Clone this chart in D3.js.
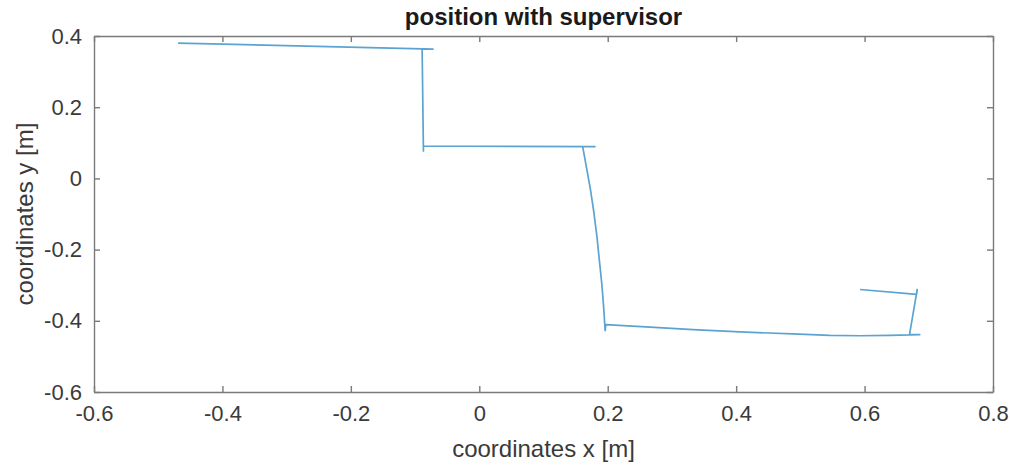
<!DOCTYPE html>
<html><head><meta charset="utf-8">
<script src="https://cdn.jsdelivr.net/npm/d3@7"></script>
<style>body{margin:0;background:#fff;} text{font-family:"Liberation Sans",Arial,sans-serif;}</style>
</head><body>
<svg id="c" width="1012" height="469"></svg>
<script>
const title = "position with supervisor";
const xLabel = "coordinates x [m]";
const yLabel = "coordinates y [m]";
const xTicks = [-0.6,-0.4,-0.2,0,0.2,0.4,0.6,0.8];
const yTicks = [-0.6,-0.4,-0.2,0,0.2,0.4];
const pathX = [-0.469,-0.072,-0.089,-0.087,-0.087,0.180,0.161,0.167,0.173,0.178,0.183,0.187,0.191,0.194,0.196,0.197,0.266,0.333,0.406,0.488,0.546,0.593,0.639,0.686,0.670,0.682,0.681,0.593];
const pathY = [0.380,0.363,0.364,0.077,0.091,0.089,0.089,0.030,-0.030,-0.090,-0.160,-0.230,-0.300,-0.370,-0.428,-0.411,-0.418,-0.425,-0.431,-0.437,-0.441,-0.442,-0.441,-0.439,-0.439,-0.312,-0.326,-0.312];

const L=94,R=993,T=36,B=392;
const svg=d3.select("#c");
const x=d3.scaleLinear().domain([-0.6,0.8]).range([L,R]);
const y=d3.scaleLinear().domain([-0.6,0.4]).range([B,T]);
const axCol="#7a7a7a", txtCol="#3a3a3a";
const fmt=d=>d===0?"0":d3.format(".1f")(d).replace("\u2212","-");

function style(g){g.select(".domain").attr("stroke",axCol).attr("stroke-width",1.4);
 g.selectAll(".tick line").attr("stroke",axCol).attr("stroke-width",1.4);
 g.selectAll(".tick text").attr("fill",txtCol).attr("font-size",22).attr("font-family","Liberation Sans, Arial, sans-serif");}

svg.append("g").attr("transform",`translate(0,${B})`).call(d3.axisBottom(x).tickValues(xTicks).tickFormat(fmt).tickSizeInner(-6).tickSizeOuter(0).tickPadding(13)).call(style);
svg.append("g").attr("transform",`translate(0,${T})`).call(d3.axisTop(x).tickValues(xTicks).tickFormat("").tickSizeInner(-6).tickSizeOuter(0)).call(style);
svg.append("g").attr("transform",`translate(${L},0)`).call(d3.axisLeft(y).tickValues(yTicks).tickFormat(fmt).tickSizeInner(-6).tickSizeOuter(0).tickPadding(12)).call(style);
svg.append("g").attr("transform",`translate(${R},0)`).call(d3.axisRight(y).tickValues(yTicks).tickFormat("").tickSizeInner(-6).tickSizeOuter(0)).call(style);

const pts=pathX.map((v,i)=>[v,pathY[i]]);
svg.append("path").datum(pts).attr("fill","none").attr("stroke","#5ba3d0").attr("stroke-width",1.7)
 .attr("stroke-linejoin","round").attr("d",d3.line().x(d=>x(d[0])).y(d=>y(d[1])));

svg.append("text").attr("x",(L+R)/2).attr("y",25).attr("text-anchor","middle").attr("font-size",24).attr("font-weight","bold").attr("fill","#1a1a1a").text(title);
svg.append("text").attr("x",(L+R)/2).attr("y",457).attr("text-anchor","middle").attr("font-size",24).attr("fill",txtCol).text(xLabel);
svg.append("text").attr("transform",`translate(33,${(T+B)/2}) rotate(-90)`).attr("text-anchor","middle").attr("font-size",24).attr("fill",txtCol).text(yLabel);
</script>
</body></html>
